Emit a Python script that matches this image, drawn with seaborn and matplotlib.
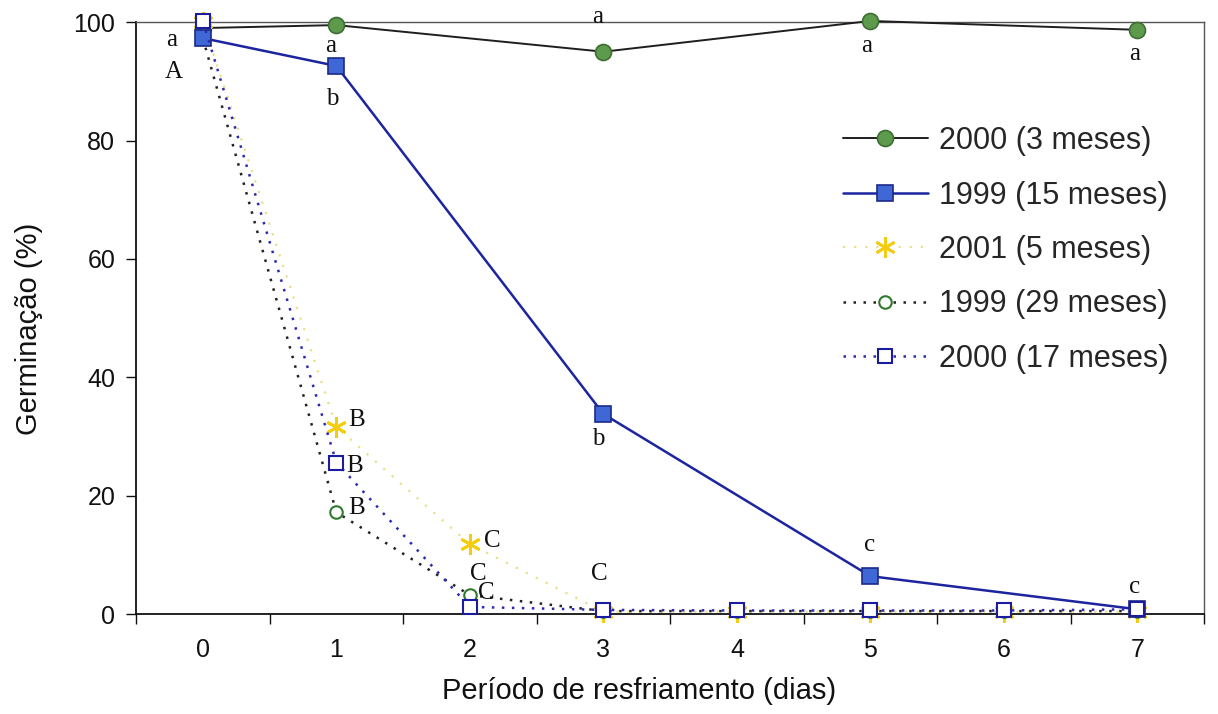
import numpy as np
import pandas as pd
import seaborn as sns
import matplotlib
matplotlib.use("Agg")
import matplotlib.pyplot as plt
from matplotlib.ticker import MultipleLocator, FixedLocator

# Germination (%) by cooling period (days) for each seed lot
dias_solid = [0, 1, 3, 5, 7]
dias_all = [0, 1, 2, 3, 4, 5, 6, 7]

g2000_3m = [99.0, 99.5, 95.0, 100.2, 98.7]
g1999_15m = [97.3, 92.6, 33.8, 6.4, 0.8]
g2001_5m = [100.0, 31.6, 11.8, 0.4, 0.4, 0.4, 0.4, 0.4]
g1999_29m = [97.3, 17.2, 3.2, 0.5, 0.5, 0.5, 0.5, 0.5]
g2000_17m = [100.2, 25.6, 1.2, 0.7, 0.6, 0.6, 0.6, 0.8]

series_labels = ["2000 (3 meses)", "1999 (15 meses)", "2001 (5 meses)",
                 "1999 (29 meses)", "2000 (17 meses)"]

# Significance letters: (x, y, text)
letters = [
    (-0.23, 97.0, "a"), (-0.22, 91.5, "A"),
    (0.96, 96.0, "a"), (0.97, 87.0, "b"),
    (2.96, 100.8, "a"), (2.96, 29.6, "b"),
    (4.97, 96.0, "a"), (4.99, 11.7, "c"),
    (6.98, 94.6, "a"), (6.98, 4.6, "c"),
    (1.15, 32.7, "B"), (1.14, 25.0, "B"), (1.15, 17.9, "B"),
    (2.17, 12.4, "C"), (2.06, 6.8, "C"), (2.12, 3.5, "C"),
    (2.97, 6.8, "C"),
]

sns.set_theme(style="white")
plt.rcParams["font.family"] = ["Liberation Sans", "DejaVu Sans"]

fig = plt.figure(figsize=(12.18, 7.14), dpi=100)
ax = fig.add_axes([0.1117, 0.14, 0.877, 0.829])

common = dict(ax=ax, clip_on=False, legend=False)

sns.lineplot(x=dias_solid, y=g2000_3m, color="#1e1e1e", linewidth=1.4,
             marker="o", markersize=11.5, markerfacecolor="#5e9a4c",
             markeredgecolor="#3d6e33", markeredgewidth=1.2, zorder=3, **common)
sns.lineplot(x=dias_solid, y=g1999_15m, color="#1c24a0", linewidth=1.8,
             marker="s", markersize=11, markerfacecolor="#3f68d6",
             markeredgecolor="#1c2a8a", markeredgewidth=1.2, zorder=6, **common)
sns.lineplot(x=dias_all, y=g2001_5m, color="#eadf8a", linewidth=1.6,
             linestyle=(0, (1, 4)), marker=(6, 2, 0), markersize=15,
             markeredgecolor="#f4cc10", markeredgewidth=2.0, zorder=4, **common)
sns.lineplot(x=dias_all, y=g1999_29m, color="#222222", linewidth=1.8,
             linestyle=(0, (1, 3)), marker="o", markersize=9,
             markerfacecolor="white", markeredgecolor="#2f7a2f",
             markeredgewidth=1.5, zorder=5, **common)
sns.lineplot(x=dias_all, y=g2000_17m, color="#2a2ab0", linewidth=1.8,
             linestyle=(0, (1, 3)), marker="s", markersize=10,
             markerfacecolor="white", markeredgecolor="#1c1ca0",
             markeredgewidth=1.5, zorder=7, **common)

for x, y, t in letters:
    ax.text(x, y, t, fontsize=18, family=["Liberation Serif", "DejaVu Serif"],
            color="#111111", ha="center", va="center", zorder=10)

ax.set_xlim(-0.5, 7.5)
ax.set_ylim(0, 100)
ax.xaxis.set_major_locator(FixedLocator(dias_all))
ax.xaxis.set_minor_locator(FixedLocator(np.arange(-0.5, 8, 1.0)))
ax.yaxis.set_major_locator(MultipleLocator(20))
ax.tick_params(axis="x", which="major", length=0, pad=17, labelsize=18, colors="#111111")
ax.tick_params(axis="x", which="minor", bottom=True, length=7, width=1.0, color="#111111")
ax.tick_params(axis="y", which="major", left=True, length=7, width=1.0, pad=8,
               labelsize=18, colors="#111111")

for side in ["left", "bottom"]:
    ax.spines[side].set_color("#111111")
    ax.spines[side].set_linewidth(1.3)
for side in ["top", "right"]:
    ax.spines[side].set_color("#555555")
    ax.spines[side].set_linewidth(1.0)

ax.set_xlabel("Período de resfriamento (dias)", fontsize=21, color="#111111")
ax.set_ylabel("Germinação (%)", fontsize=21, color="#111111")
ax.xaxis.set_label_coords(0.471, -0.106)
ax.yaxis.set_label_coords(-0.087, 0.481)

handles = ax.get_lines()[:5]
ax.legend(handles, series_labels, loc="upper left", bbox_to_anchor=(0.65, 0.845),
          frameon=False, fontsize=22, handlelength=2.8, labelspacing=0.8,
          handletextpad=0.35, borderaxespad=0)

fig.savefig("out.png", dpi=100, facecolor="white")
